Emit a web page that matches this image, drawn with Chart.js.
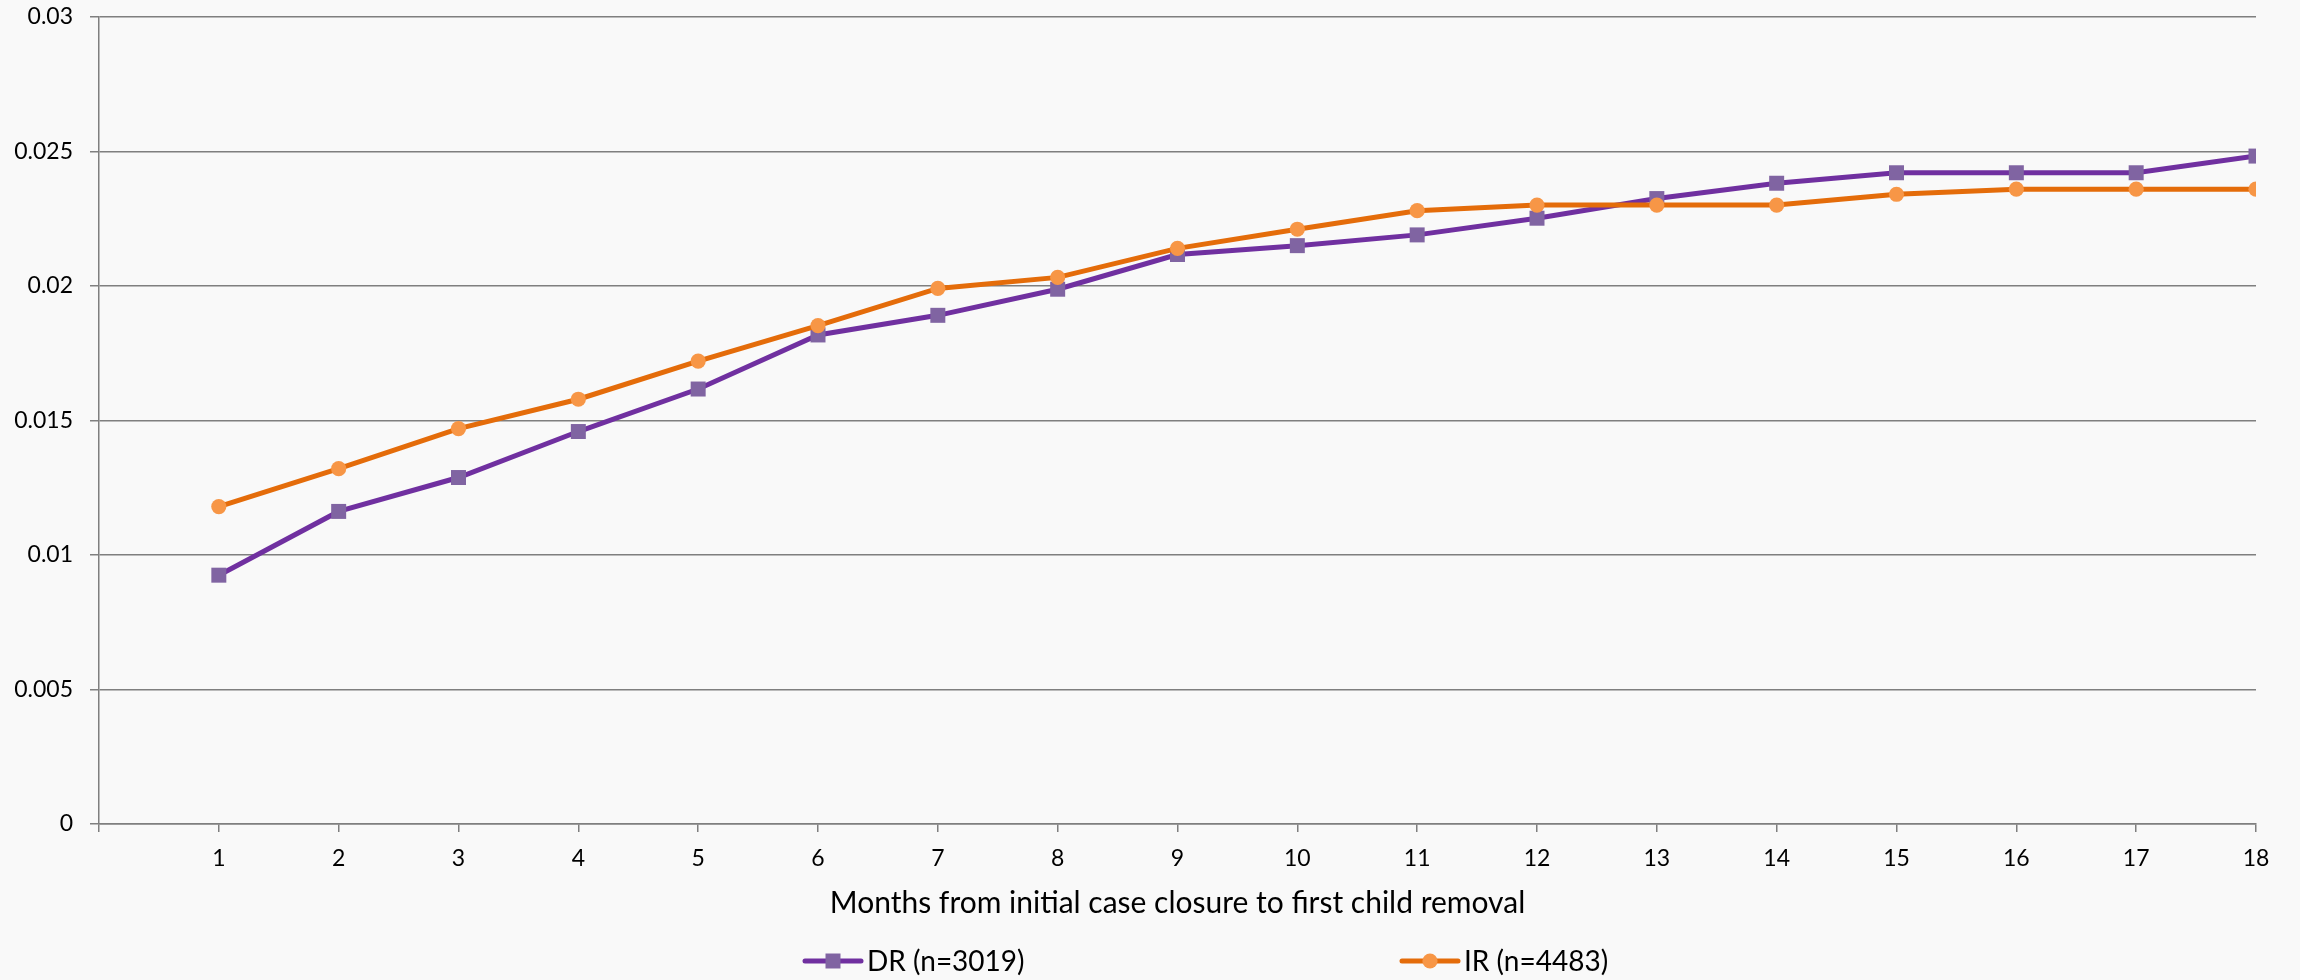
<!DOCTYPE html>
<html>
<head>
<meta charset="utf-8">
<script src="https://cdn.jsdelivr.net/npm/chart.js@4.4.1/dist/chart.umd.min.js"></script>
<style>
  html, body { margin: 0; padding: 0; background: #f9f9f9; }
  #wrap { width: 2300px; height: 980px; position: relative; }
  canvas { display: block; }
</style>
</head>
<body>
<div id="wrap"><canvas id="chart" width="2300" height="980"></canvas></div>
<script>
// Months after the initial case was closed
const months = [1, 2, 3, 4, 5, 6, 7, 8, 9, 10, 11, 12, 13, 14, 15, 16, 17, 18];

// Cumulative share of families with a first child removal
const drValues = [0.00925, 0.01162, 0.01288, 0.01459, 0.01617, 0.01818, 0.01891, 0.01988,
                  0.02117, 0.0215, 0.0219, 0.02252, 0.02325, 0.02382, 0.02421, 0.02421, 0.02421, 0.02483];
const irValues = [0.0118, 0.01321, 0.0147, 0.01579, 0.01721, 0.01853, 0.01991, 0.02032,
                  0.0214, 0.02211, 0.0228, 0.02301, 0.02301, 0.02301, 0.02341, 0.0236, 0.0236, 0.0236];

const seriesNames = ['DR (n=3019)', 'IR (n=4483)'];
const yTickLabels = ['0', '0.005', '0.01', '0.015', '0.02', '0.025', '0.03'];
const xTitle = 'Months from initial case closure to first child removal';

const FONT = 'Lato, "Open Sans", sans-serif';
const AXIS_GREY = '#7f7f7f';

const toPoints = vals => months.map((m, i) => ({ x: m, y: vals[i] }));

// Page background
const backdrop = {
  id: 'backdrop',
  beforeDraw(chart) {
    const { ctx, width, height } = chart;
    ctx.save();
    ctx.fillStyle = '#f9f9f9';
    ctx.fillRect(0, 0, width, height);
    ctx.restore();
  }
};

// Legend row under the axis title: a short line with the series marker, then the name
const lineLegend = {
  id: 'lineLegend',
  afterDraw(chart, args, opts) {
    const { ctx } = chart;
    ctx.save();
    chart.data.datasets.forEach((ds, i) => {
      const x0 = opts.left + i * opts.slot;
      const y = opts.y;
      ctx.strokeStyle = ds.borderColor;
      ctx.lineWidth = ds.borderWidth;
      ctx.lineCap = 'round';
      ctx.beginPath();
      ctx.moveTo(x0, y);
      ctx.lineTo(x0 + opts.lineLen, y);
      ctx.stroke();
      const cx = x0 + opts.lineLen / 2;
      ctx.fillStyle = ds.pointBackgroundColor;
      ctx.beginPath();
      if (ds.pointStyle === 'rect') {
        const s = Math.SQRT1_2 * ds.pointRadius;
        ctx.rect(cx - s, y - s, 2 * s, 2 * s);
      } else {
        ctx.arc(cx, y, ds.pointRadius, 0, Math.PI * 2);
      }
      ctx.fill();
      ctx.fillStyle = '#000';
      ctx.font = `${opts.fontSize}px ${FONT}`;
      ctx.textAlign = 'left';
      ctx.textBaseline = 'middle';
      ctx.fillText(ds.label, x0 + opts.lineLen + opts.gap, y + 1);
    });
    ctx.restore();
  }
};

// Keep the plot frame fixed: no extra room for label overhang
const noOverhang = scale => {
  scale.paddingTop = 0;
  scale.paddingBottom = 0;
  scale.paddingLeft = 0;
  scale.paddingRight = 0;
};

new Chart(document.getElementById('chart'), {
  type: 'line',
  data: {
    datasets: [
      {
        label: seriesNames[0],
        data: toPoints(drValues),
        borderColor: '#7030A0',
        borderWidth: 5,
        pointStyle: 'rect',
        pointRadius: 10.6,
        pointBackgroundColor: '#8064A2',
        pointBorderWidth: 0,
        pointHoverRadius: 10.6,
        tension: 0,
        order: 2
      },
      {
        label: seriesNames[1],
        data: toPoints(irValues),
        borderColor: '#E46C0A',
        borderWidth: 5,
        pointStyle: 'circle',
        pointRadius: 7.6,
        pointBackgroundColor: '#F79646',
        pointBorderWidth: 0,
        pointHoverRadius: 7.6,
        tension: 0,
        order: 1
      }
    ]
  },
  options: {
    responsive: false,
    animation: false,
    events: [],
    layout: { padding: { left: 0, right: 44, top: 17, bottom: 0 } },
    plugins: {
      legend: { display: false },
      tooltip: { enabled: false },
      lineLegend: { left: 805, slot: 597, y: 961, lineLen: 56, gap: 6, fontSize: 28 }
    },
    scales: {
      x: {
        type: 'linear',
        min: 0,
        max: 18,
        afterFit(scale) { scale.height = 156; noOverhang(scale); },
        afterBuildTicks(scale) {
          scale.ticks = [0].concat(months).map(v => ({ value: v }));
        },
        ticks: {
          autoSkip: false,
          maxRotation: 0,
          padding: 13,
          color: '#000',
          font: { family: FONT, size: 23 },
          callback: v => (v === 0 ? '' : String(v))
        },
        grid: {
          drawOnChartArea: false,
          drawTicks: true,
          tickLength: 8,
          color: AXIS_GREY,
          lineWidth: 1.5
        },
        border: { display: true, color: AXIS_GREY, width: 1.5 },
        title: {
          display: true,
          text: xTitle,
          color: '#000',
          font: { family: FONT, size: 30 },
          padding: { top: 4, bottom: 59 }
        }
      },
      y: {
        min: 0,
        max: 0.03,
        afterFit(scale) { scale.width = 99; noOverhang(scale); },
        afterBuildTicks(scale) {
          scale.ticks = yTickLabels.map(t => ({ value: parseFloat(t) }));
        },
        ticks: {
          padding: 17,
          color: '#000',
          font: { family: FONT, size: 23 },
          callback: (v, i) => yTickLabels[i]
        },
        grid: {
          color: AXIS_GREY,
          lineWidth: 1.5,
          tickLength: 9
        },
        border: { display: true, color: AXIS_GREY, width: 1.5 }
      }
    }
  },
  plugins: [backdrop, lineLegend]
});
</script>
</body>
</html>
